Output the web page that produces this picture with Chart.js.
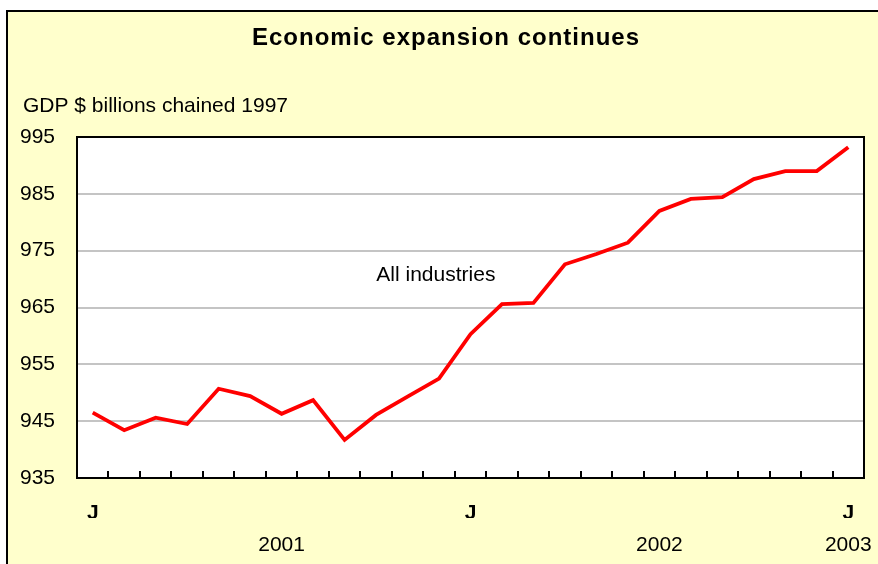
<!DOCTYPE html>
<html>
<head>
<meta charset="utf-8">
<script src="https://cdn.jsdelivr.net/npm/chart.js@4"></script>
<style>
  html, body { margin: 0; padding: 0; background: #fff; }
  body { width: 878px; height: 564px; position: relative; overflow: hidden; }
  #frame {
    position: absolute; left: 6px; top: 10px; width: 920px; height: 600px;
    background: #FFFFCC; border-left: 2px solid #000; border-top: 2px solid #000;
  }
  #chart { position: absolute; left: 0; top: 0; }
</style>
</head>
<body>
<div id="frame"></div>
<canvas id="chart" width="878" height="564"></canvas>
<script>
// monthly categories, Jan 2001 .. Jan 2003
const months = [
  'Jan 2001', 'Feb 2001', 'Mar 2001', 'Apr 2001', 'May 2001', 'Jun 2001',
  'Jul 2001', 'Aug 2001', 'Sep 2001', 'Oct 2001', 'Nov 2001', 'Dec 2001',
  'Jan 2002', 'Feb 2002', 'Mar 2002', 'Apr 2002', 'May 2002', 'Jun 2002',
  'Jul 2002', 'Aug 2002', 'Sep 2002', 'Oct 2002', 'Nov 2002', 'Dec 2002',
  'Jan 2003'
];

// GDP, all industries ($ billions chained 1997)
const allIndustries = [
  946.5, 943.4, 945.6, 944.5, 950.7, 949.4, 946.3, 948.7, 941.7, 946.1,
  949.3, 952.5, 960.3, 965.6, 965.8, 972.6, 974.4, 976.4, 982.0, 984.1,
  984.4, 987.6, 989.0, 989.0, 993.2
];

const yMin = 935;
const yMax = 995;
const yStep = 10;

const monthLetterIndex = [0, 12, 24];
const yearLabels = ['2001', '2002', '2003'];
const yearLabelIndex = [6, 18, 24];

const FONT = "'Liberation Sans', Arial, sans-serif";

// white plot area + black frame round it
const plotFrame = {
  id: 'plotFrame',
  beforeDraw(chart) {
    const { ctx, chartArea: a } = chart;
    ctx.save();
    ctx.fillStyle = '#fff';
    ctx.fillRect(a.left, a.top, a.right - a.left, a.bottom - a.top);
    ctx.restore();
  },
  afterDatasetsDraw(chart) {
    const { ctx, chartArea: a } = chart;
    ctx.save();
    ctx.strokeStyle = '#000';
    ctx.lineWidth = 2;
    ctx.strokeRect(a.left, a.top, a.right - a.left, a.bottom - a.top);
    ctx.restore();
  }
};

// title, unit label and the series label
const texts = {
  id: 'texts',
  afterDraw(chart) {
    const { ctx, scales } = chart;
    ctx.save();
    ctx.fillStyle = '#000';
    ctx.textBaseline = 'middle';

    ctx.font = 'bold 24px ' + FONT;
    ctx.letterSpacing = '1px';
    ctx.textAlign = 'center';
    ctx.fillText('Economic expansion continues', 446, 38);

    ctx.letterSpacing = '0px';
    ctx.font = '21px ' + FONT;
    ctx.textAlign = 'left';
    ctx.fillText('GDP $ billions chained 1997', 23, 106);

    ctx.textAlign = 'center';
    const x = scales.x.getPixelForValue(10.9);
    const y = scales.y.getPixelForValue(970.7);
    ctx.fillText('All industries', x, y);
    ctx.restore();
  }
};

new Chart(document.getElementById('chart'), {
  type: 'line',
  data: {
    labels: months,
    datasets: [{
      label: 'All industries',
      data: allIndustries,
      borderColor: '#FF0000',
      borderWidth: 3.8,
      pointRadius: 0,
      tension: 0,
      fill: false
    }]
  },
  options: {
    responsive: false,
    animation: false,
    layout: { padding: { left: 0, right: 14, top: 137, bottom: 0 } },
    plugins: {
      legend: { display: false },
      tooltip: { enabled: false },
      title: { display: false },
      subtitle: { display: false }
    },
    scales: {
      x: {
        type: 'category',
        position: 'bottom',
        offset: true,
        grid: {
          offset: true,
          drawOnChartArea: false,
          drawTicks: true,
          tickLength: -7,
          color: '#000',
          lineWidth: 2
        },
        border: { display: false },
        ticks: {
          autoSkip: false,
          maxRotation: 0,
          padding: 30,
          color: '#000',
          font: { family: FONT, size: 21, weight: 'bold' },
          callback: (v, i) => monthLetterIndex.includes(i) ? 'J' : ''
        },
        afterFit: s => { s.height = 40; s.paddingLeft = 0; s.paddingRight = 0; }
      },
      x2: {
        type: 'category',
        position: 'bottom',
        labels: months,
        offset: true,
        grid: { display: false },
        border: { display: false },
        ticks: {
          autoSkip: false,
          maxRotation: 0,
          padding: 7,
          color: '#000',
          font: { family: FONT, size: 21 },
          callback: (v, i) => {
            const k = yearLabelIndex.indexOf(i);
            return k >= 0 ? yearLabels[k] : '';
          }
        },
        afterFit: s => { s.height = 46; s.paddingLeft = 0; s.paddingRight = 0; }
      },
      y: {
        min: yMin,
        max: yMax,
        grid: {
          color: '#C4C4C4',
          lineWidth: 2,
          drawTicks: false
        },
        border: { display: false },
        ticks: {
          stepSize: yStep,
          padding: 22,
          color: '#000',
          font: { family: FONT, size: 21 }
        },
        afterFit: s => { s.width = 77; s.paddingTop = 0; s.paddingBottom = 0; }
      }
    }
  },
  plugins: [plotFrame, texts]
});
</script>
</body>
</html>
